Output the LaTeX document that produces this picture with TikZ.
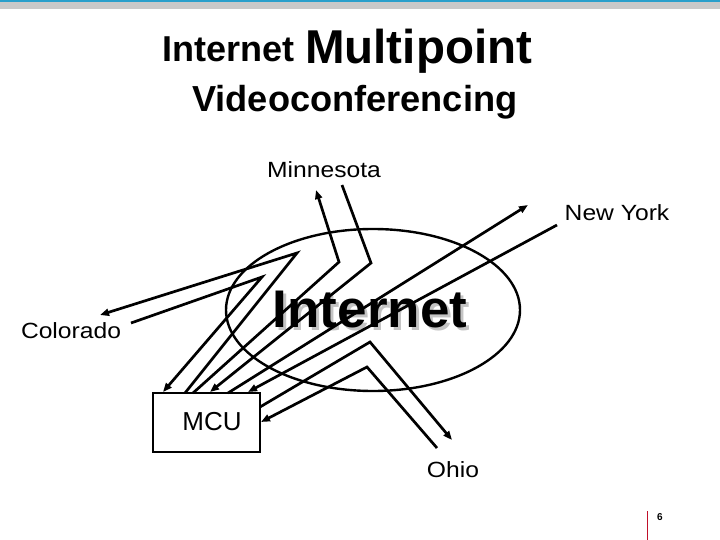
\documentclass[tikz,border=0pt]{standalone}
\usepackage{fontspec}
\setmainfont{Liberation Sans}
\newfontfamily\wide[FakeStretch=1.12]{Liberation Sans}
\usetikzlibrary{arrows.meta,shapes.geometric}
\definecolor{topblue}{HTML}{2A9FCB}
\definecolor{topgrey}{HTML}{C9C9C9}
\definecolor{shadowgrey}{HTML}{C4C4C4}
\definecolor{pagered}{HTML}{C0102A}
\begin{document}
\begin{tikzpicture}[x=1pt,y=-1pt,
  link/.style={line width=2.7pt},
  arr/.style={link,-{Triangle[length=9pt,width=7pt]}},
  place/.style={font=\wide\fontsize{22}{24}\selectfont, inner sep=0pt},
  titletext/.style={inner sep=0pt, anchor=base west}]
\useasboundingbox (0,0) rectangle (720,540);
\fill[white] (0,0) rectangle (720,540);
\fill[topgrey] (0,2) rectangle (720,9);
\fill[topblue] (0,0) rectangle (720,2.5);

% title
\node[titletext, font=\bfseries\fontsize{36}{40}\selectfont] (t1) at (162,62) {Internet};
\node[titletext, font=\bfseries\fontsize{47.5}{52}\selectfont] (t2) at (305,64) {Multipoint};
\node[titletext, font=\bfseries\fontsize{36.2}{40}\selectfont] (t3) at (192,112) {Videoconferencing};

% cloud
\node[draw, ellipse, line width=2.4pt, minimum width=294pt, minimum height=162pt, inner sep=0pt] (net) at (373,310) {};
\node[font=\bfseries\fontsize{53}{58}\selectfont, inner sep=0pt] (netlabel) at (370,311)
  {\makebox[0pt][l]{\hspace{3pt}\raisebox{-3pt}{\textcolor{shadowgrey}{Internet}}}Internet};

% places
\node[place] (minn) at (324,170) {Minnesota};
\node[place] (ny) at (617,213) {New York};
\node[place] (colo) at (71,331) {Colorado};
\node[place] (ohio) at (453,470) {Ohio};
\node[draw, line width=2.4pt, minimum width=107pt, minimum height=59pt, inner sep=0pt] (mcu) at (206.5,422.5) {};
\node[font=\fontsize{26}{28}\selectfont, inner sep=0pt] (mculabel) at (212,422) {MCU};

% connector ends
\coordinate (mc1) at (163,392);
\coordinate (mc2) at (185,393);
\coordinate (mc3) at (193,393);
\coordinate (mc4) at (210,392);
\coordinate (mc5) at (228,393);
\coordinate (mc6) at (248,392);
\coordinate (mr1) at (260,407);
\coordinate (mr2) at (261,422);
\coordinate (colA) at (297,253);
\coordinate (colTip) at (100,315);
\coordinate (colS) at (131,323);
\coordinate (colB) at (262,277);
\coordinate (minA) at (339,262);
\coordinate (minTip) at (316,190);
\coordinate (minS) at (342,185);
\coordinate (minB) at (371,263);
\coordinate (nyTip) at (528,205);
\coordinate (nyS) at (557,225);
\coordinate (ohA) at (370,342);
\coordinate (ohTip) at (452,440);
\coordinate (ohS) at (437,448);
\coordinate (ohB) at (367,367);

% Colorado
\draw[arr] (mc2) -- (colA) -- (colTip);
\draw[arr] (colS) -- (colB) -- (mc1);
% Minnesota
\draw[arr] (mc3) -- (minA) -- (minTip);
\draw[arr] (minS) -- (minB) -- (mc4);
% New York
\draw[arr] (mc5) -- (nyTip);
\draw[arr] (nyS) -- (mc6);
% Ohio
\draw[arr] (mr1) -- (ohA) -- (ohTip);
\draw[arr] (ohS) -- (ohB) -- (mr2);

% page number
\draw[pagered, line width=1pt] (647,511) -- (647,540);
\node[font=\bfseries\fontsize{10}{12}\selectfont, inner sep=0pt] (pg) at (660,517) {6};
\end{tikzpicture}
\end{document}
